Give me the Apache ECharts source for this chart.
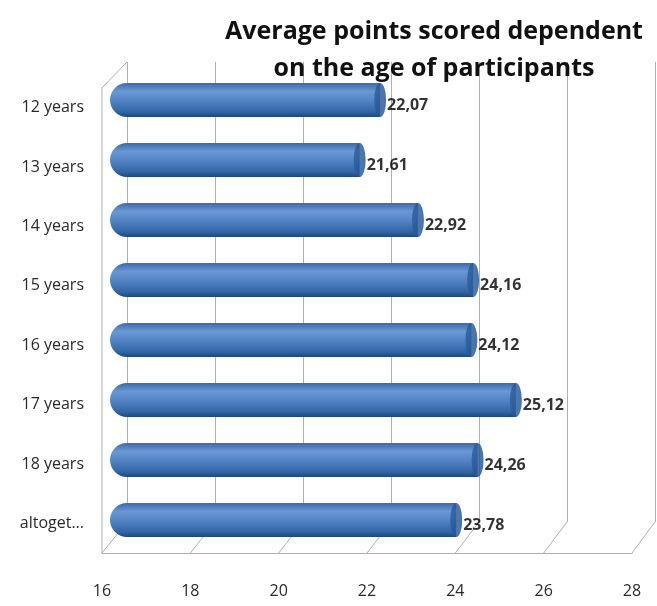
<!DOCTYPE html>
<html>
<head>
<meta charset="utf-8">
<script src="https://cdn.jsdelivr.net/npm/echarts@6/dist/echarts.min.js"></script>
<style>
  html, body { margin: 0; padding: 0; background: #fff; }
  #main { width: 657px; height: 606px; }
</style>
</head>
<body>
<div id="main"></div>
<script>
// data
const categories = ['12 years', '13 years', '14 years', '15 years', '16 years', '17 years', '18 years', 'altoget...'];
const values = [22.07, 21.61, 22.92, 24.16, 24.12, 25.12, 24.26, 23.78];
const xTicks = [16, 18, 20, 22, 24, 26, 28];

const FONT = '"Open Sans", "DejaVu Sans", sans-serif';
const GRID_GRAY = '#b0b0b0';

const chart = echarts.init(document.getElementById('main'));

const option = {
  backgroundColor: '#fff',
  animation: false,
  title: {
    text: 'Average points scored dependent\non the age of participants',
    left: 429,
    top: 8,
    textAlign: 'center',
    textStyle: { fontFamily: FONT, fontWeight: 'bold', fontSize: 25, lineHeight: 37, color: '#111' }
  },
  grid: [
    // front (labels + floor edge)
    { left: 102, width: 530, top: 78, height: 475 },
    // back wall
    { left: 127, width: 528, top: 62, height: 460 },
    // bars, mid depth
    { left: 110, width: 534, top: 70, height: 480 }
  ],
  xAxis: [
    {
      gridIndex: 0, type: 'value', min: xTicks[0], max: xTicks[xTicks.length - 1], interval: 2,
      axisLine: { show: true, lineStyle: { color: GRID_GRAY } },
      axisTick: { show: false }, splitLine: { show: false },
      axisLabel: { margin: 30, fontFamily: FONT, fontSize: 16, color: '#2a2a2a' }
    },
    {
      gridIndex: 1, type: 'value', min: xTicks[0], max: xTicks[xTicks.length - 1], interval: 2,
      axisLine: { show: false }, axisTick: { show: false }, axisLabel: { show: false },
      splitLine: { show: true, lineStyle: { color: GRID_GRAY } }
    },
    {
      gridIndex: 2, type: 'value', min: xTicks[0], max: xTicks[xTicks.length - 1], show: false
    }
  ],
  yAxis: [
    {
      gridIndex: 0, type: 'category', inverse: true, data: categories,
      axisLine: { show: false }, axisTick: { show: false },
      axisLabel: { margin: 18, fontFamily: FONT, fontSize: 16, color: '#2a2a2a' }
    },
    { gridIndex: 1, type: 'category', data: categories, show: false },
    { gridIndex: 2, type: 'category', inverse: true, data: categories, show: false }
  ],
  series: [
    {
      type: 'bar',
      xAxisIndex: 2, yAxisIndex: 2,
      data: values,
      barWidth: 34,
      itemStyle: {
        borderRadius: [17, 0, 0, 17],
        color: new echarts.graphic.LinearGradient(0, 0, 0, 1, [
          { offset: 0, color: '#3a6aaa' },
          { offset: 0.25, color: '#6a98d4' },
          { offset: 0.5, color: '#5585c6' },
          { offset: 0.85, color: '#3264a4' },
          { offset: 1, color: '#1d4780' }
        ])
      }
    },
    {
      type: 'scatter',
      xAxisIndex: 2, yAxisIndex: 2,
      data: values,
      symbol: 'circle',
      symbolSize: [12, 34],
      itemStyle: {
        color: new echarts.graphic.LinearGradient(0, 0, 1, 0, [
          { offset: 0, color: '#2a5c9c' },
          { offset: 1, color: '#1d4f8e' }
        ])
      },
      label: {
        show: true,
        position: 'right',
        distance: 1,
        offset: [0, 5],
        formatter: p => p.value.toFixed(2).replace('.', ','),
        fontFamily: FONT, fontWeight: 'bold', fontSize: 16, color: '#000'
      },
      z: 3
    }
  ]
};

chart.setOption(option);

// 3D frame: floor slants and side wall, positioned through the axes
const backBottom = 62 + 460;
const frontBottom = 78 + 475;
const lines = [];
xTicks.forEach(v => {
  const bx = chart.convertToPixel({ xAxisIndex: 1 }, v);
  const fx = chart.convertToPixel({ xAxisIndex: 0 }, v);
  lines.push({ type: 'line', shape: { x1: bx, y1: backBottom, x2: fx, y2: frontBottom }, style: { stroke: GRID_GRAY, lineWidth: 1 } });
});
const bx0 = chart.convertToPixel({ xAxisIndex: 1 }, xTicks[0]);
const fx0 = chart.convertToPixel({ xAxisIndex: 0 }, xTicks[0]);
lines.push({ type: 'line', shape: { x1: fx0, y1: 88, x2: fx0, y2: frontBottom }, style: { stroke: GRID_GRAY, lineWidth: 1 } });
lines.push({ type: 'line', shape: { x1: fx0, y1: 88, x2: bx0, y2: 62 }, style: { stroke: GRID_GRAY, lineWidth: 1 } });
chart.setOption({ graphic: lines.map(l => Object.assign(l, { silent: true, z: -1 })) });
</script>
</body>
</html>
